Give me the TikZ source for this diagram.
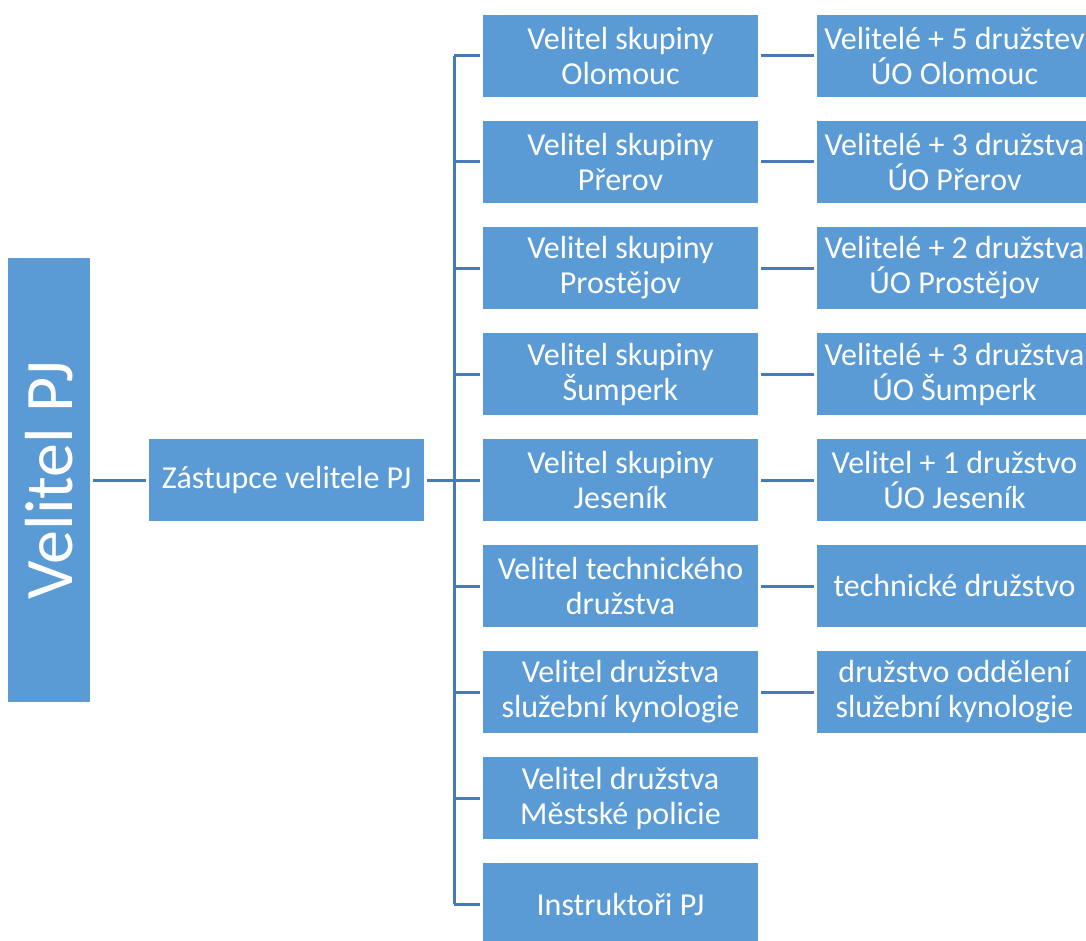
\documentclass[tikz,border=0pt]{standalone}
\usepackage{fontspec}
\setmainfont{Carlito}
\definecolor{boxblue}{RGB}{91,155,213}
\definecolor{lineblue}{RGB}{70,122,184}
\begin{document}
\begin{tikzpicture}[x=1pt,y=-1pt,
  unit/.style={fill=boxblue,text=white,align=center,inner sep=0pt,outer sep=3pt,
    minimum width=275pt,minimum height=82pt,font=\fontsize{32}{35}\selectfont},
  link/.style={draw=lineblue,line width=3pt}]
\useasboundingbox (0,0) rectangle (1086,941);
\node[unit,minimum width=82pt,minimum height=444pt] (chief) at (49,480) {};
\node[rotate=90,text=white,font=\fontsize{68}{80}\selectfont] at (chief.center) {Velitel PJ};
\node[unit] (deputy) at (286.5,480) {Zástupce velitele PJ};
\draw[link] (chief.east) -- (deputy.west);
\coordinate (bus) at (454,480);
\draw[link] (deputy.east) -- (bus);
% middle column
\foreach \i/\txt in {1/Velitel skupiny\\Olomouc, 2/Velitel skupiny\\Přerov,
    3/Velitel skupiny\\Prostějov, 4/Velitel skupiny\\Šumperk,
    5/Velitel skupiny\\Jeseník, 6/Velitel technického\\družstva,
    7/Velitel družstva\\služební kynologie, 8/Velitel družstva\\Městské policie,
    9/Instruktoři PJ}
  \node[unit] (group\i) at (620.5,{56+106*(\i-1)}) {\txt};
\draw[link] (group1.west -| bus) -- (group9.west -| bus);
\foreach \i in {1,...,9}
  \draw[link] (group\i.west -| bus) -- (group\i.west);
% right column
\foreach \i/\txt in {1/Velitelé + 5 družstev\\ÚO Olomouc, 2/Velitelé + 3 družstva\\ÚO Přerov,
    3/Velitelé + 2 družstva\\ÚO Prostějov, 4/Velitelé + 3 družstva\\ÚO Šumperk,
    5/Velitel + 1 družstvo\\ÚO Jeseník, 6/technické družstvo,
    7/družstvo oddělení\\služební kynologie}
  {
  \node[unit] (team\i) at (954.5,{56+106*(\i-1)}) {\txt};
  \draw[link] (group\i.east) -- (team\i.west);
  }
\end{tikzpicture}
\end{document}
